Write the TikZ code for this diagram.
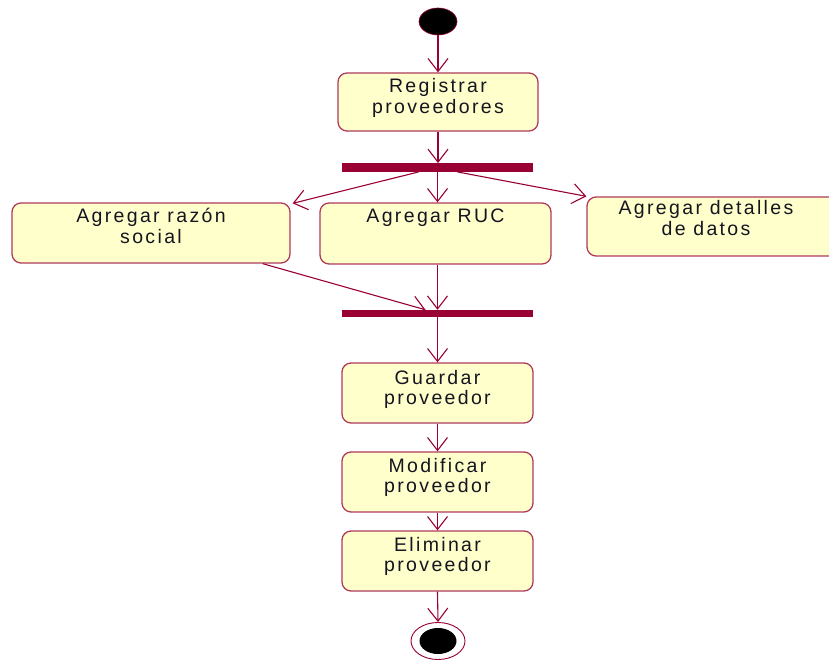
\documentclass[tikz,border=0pt]{standalone}
\usepackage{fontspec}
\setmainfont{Liberation Sans}[LetterSpace=12]
\usetikzlibrary{arrows.meta,shapes.geometric}
\definecolor{umlred}{HTML}{990033}
\definecolor{umlbox}{HTML}{B03A5B}
\definecolor{umlfill}{HTML}{FFFFCC}
\definecolor{umltext}{HTML}{151520}
% text block of an activity: width, height, lines (top aligned)
\newcommand\acttxt[3]{\parbox[c][#2][t]{#1}{\centering\rule{0pt}{20pt}#3}}
\begin{document}
\begin{tikzpicture}[x=1pt,y=-1pt,
  act/.style={draw=umlbox, line width=1.3pt, fill=umlfill, rounded corners=9pt,
    inner sep=0pt, text=umltext, font=\fontsize{19.5}{20.5}\selectfont},
  flow/.style={draw=umlred, line width=1.1pt, -{Straight Barb[length=13pt,width=20pt,line width=1.1pt]}},
  syncbar/.style={fill=umlred, draw=none, inner sep=0pt, minimum width=191pt},
  initial/.style={ellipse, fill=black, draw=umlred, line width=0.6pt, inner sep=0pt}
]
\useasboundingbox (0,0) rectangle (829,660);
\clip (0,0) rectangle (829,660);

% start state
\node[initial, minimum width=38pt, minimum height=27pt] (start) at (438,21.5) {};

% activities
\node[act] (reg) at (438,102) {\acttxt{200pt}{58pt}{Registrar\\proveedores}};
\node[syncbar, minimum height=8.5pt] (bar1) at (437.5,167.5) {};
\node[act] (razon) at (151,233) {\acttxt{278pt}{60pt}{Agregar razón\\social}};
\node[act] (ruc) at (435.5,233.5) {\acttxt{231pt}{61pt}{Agregar RUC}};
\node[act] (det) at (718.5,226.5) {\parbox[c][59pt][t]{263pt}{\raggedright\rule{0pt}{18pt}\makebox[238pt]{Agregar detalles}\\\makebox[238pt]{de datos}}};
\node[syncbar, minimum height=7pt] (bar2) at (437.5,313.5) {};
\node[act] (guard) at (437.5,393) {\acttxt{191pt}{60pt}{\rule{0pt}{21pt}Guardar\\proveedor}};
\node[act] (modif) at (437.5,482) {\acttxt{191pt}{60pt}{Modificar\\proveedor}};
\node[act] (elim) at (437.5,561) {\acttxt{191pt}{60pt}{Eliminar\\proveedor}};

% final state
\node[ellipse, draw=umlred, line width=0.9pt, fill=white, minimum width=54pt, minimum height=37pt, inner sep=0pt] (end) at (438,641) {};
\node[ellipse, fill=black, minimum width=37pt, minimum height=26pt, inner sep=0pt] (enddot) at (end.center) {};

% control flows
\draw[flow] (start.south) -- (reg.north);
\draw[flow] (reg.south) -- (reg.south |- bar1.north);
\draw[flow] ([xshift=-19pt]bar1.south) -- ([xshift=2pt,yshift=-1pt]razon.north east);
\draw[flow] (bar1.south) -- (bar1.south |- ruc.north);
\draw[flow] ([xshift=20pt]bar1.south) -- (det.north west);
\draw[flow] (bar2.north |- ruc.south) -- (bar2.north);
\draw[flow] ([xshift=-28pt]razon.south east) -- ([xshift=-12pt]bar2.north);
\draw[flow] (bar2.south) -- (guard.north);
\draw[flow] (guard.south) -- (modif.north);
\draw[flow] (modif.south) -- (elim.north);
\draw[flow] (elim.south) -- (end.north);
\end{tikzpicture}
\end{document}
